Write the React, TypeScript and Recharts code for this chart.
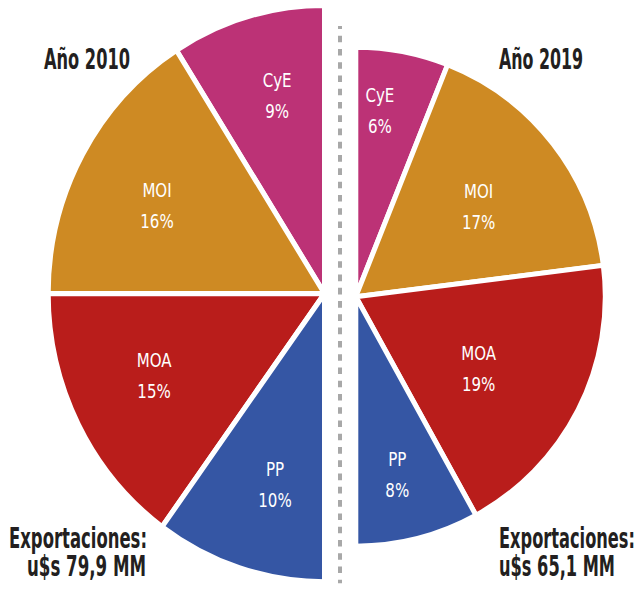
import React from 'react';
import { PieChart, Pie, Cell, Customized } from 'recharts';

const categories = ['CyE', 'MOI', 'MOA', 'PP'];
const shares2010 = [9, 16, 15, 10];
const shares2019 = [6, 17, 19, 8];
const yearTitles = ['Año 2010', 'Año 2019'];
const totalHeader = 'Exportaciones:';
const totalValues = ['u$s 79,9 MM', 'u$s 65,1 MM'];

const colors = ['#BC3276', '#CE8A23', '#B91D1B', '#3556A4'];

const data2010 = categories.map((name, i) => ({ name, value: shares2010[i] }));
const data2019 = categories.map((name, i) => ({ name, value: shares2019[i] }));

const W = 638;
const H = 590;
const RAD = Math.PI / 180;
const NARROW = "'Liberation Sans Narrow', 'DejaVu Sans Condensed', 'Arial Narrow', sans-serif";
const INK = '#231F20';
const LABEL_SQUEEZE = 0.88;

// label placement (radius factor, angle shift) per slice
const leftLabelPos = [
  { rf: 0.709, da: -2.2 },
  { rf: 0.678, da: 2.2 },
  { rf: 0.679, da: -2.3 },
  { rf: 0.688, da: 2.9 },
];
const rightLabelPos = [
  { rf: 0.75, da: 3.4 },
  { rf: 0.61, da: -1.6 },
  { rf: 0.57, da: -3.3 },
  { rf: 0.733, da: -1.3 },
];

const LEFT_SCALE_Y = 1.043;

function makeLabel(pos: { rf: number; da: number }[], values: number[], sy: number) {
  return (props: any) => {
    const { cx, cy, midAngle, outerRadius, index } = props;
    const p = pos[index];
    const r = outerRadius * p.rf;
    const a = (midAngle + p.da) * RAD;
    const x = cx + r * Math.cos(a);
    const y = cy - r * Math.sin(a);
    const half = 15.5 / sy;
    const base = 6.8 / sy;
    return (
      <g key={`lbl-${index}`} transform={`translate(${x},${y}) scale(${LABEL_SQUEEZE},1)`}>
        <text x={0} y={-half + base} textAnchor="middle" fill="#fff" fontFamily={NARROW} fontSize={19}>
          {categories[index]}
        </text>
        <text x={0} y={half + base} textAnchor="middle" fill="#fff" fontFamily={NARROW} fontSize={19}>
          {`${values[index]}%`}
        </text>
      </g>
    );
  };
}

const Overlay = () => (
  <g>
    <line
      x1={340}
      y1={26}
      x2={340}
      y2={583.3}
      stroke="#A8A8A8"
      strokeWidth={4}
      strokeDasharray="6.6 6.67"
      strokeDashoffset={3.6}
    />
    <text x={44} y={69} fontFamily={NARROW} fontWeight="bold" fontSize={29} fill={INK} textLength={86} lengthAdjust="spacingAndGlyphs">
      {yearTitles[0]}
    </text>
    <text x={499} y={69} fontFamily={NARROW} fontWeight="bold" fontSize={29} fill={INK} textLength={84} lengthAdjust="spacingAndGlyphs">
      {yearTitles[1]}
    </text>
    <text x={9} y={548} fontFamily={NARROW} fontWeight="bold" fontSize={28} fill={INK} textLength={138} lengthAdjust="spacingAndGlyphs">
      {totalHeader}
    </text>
    <text x={27} y={576} fontFamily={NARROW} fontWeight="bold" fontSize={28} fill={INK} textLength={119} lengthAdjust="spacingAndGlyphs">
      {totalValues[0]}
    </text>
    <text x={499} y={548} fontFamily={NARROW} fontWeight="bold" fontSize={28} fill={INK} textLength={136} lengthAdjust="spacingAndGlyphs">
      {totalHeader}
    </text>
    <text x={499} y={576} fontFamily={NARROW} fontWeight="bold" fontSize={28} fill={INK} textLength={116} lengthAdjust="spacingAndGlyphs">
      {totalValues[1]}
    </text>
  </g>
);

const noMargin = { top: 0, right: 0, bottom: 0, left: 0 };

export default function App() {
  return (
    <div style={{ position: 'fixed', left: 0, top: 0, width: W, height: H, background: '#fff', overflow: 'hidden' }}>
      <div
        style={{
          position: 'absolute',
          left: 0,
          top: 0,
          width: W,
          height: H,
          transform: `scaleY(${LEFT_SCALE_Y})`,
          transformOrigin: '0px 293.6px',
        }}
      >
        <PieChart width={W} height={H} margin={noMargin}>
          <Pie
            data={data2010}
            dataKey="value"
            nameKey="name"
            cx={324.5}
            cy={293.6}
            innerRadius={0}
            outerRadius={276.3}
            startAngle={90}
            endAngle={270}
            stroke="#fff"
            strokeWidth={5}
            labelLine={false}
            label={makeLabel(leftLabelPos, shares2010, LEFT_SCALE_Y)}
            isAnimationActive={false}
          >
            {data2010.map((d, i) => (
              <Cell key={d.name} fill={colors[i]} />
            ))}
          </Pie>
        </PieChart>
      </div>
      <div style={{ position: 'absolute', left: 0, top: 0, width: W, height: H }}>
        <PieChart width={W} height={H} margin={noMargin}>
          <Pie
            data={data2019}
            dataKey="value"
            nameKey="name"
            cx={355.8}
            cy={296.65}
            innerRadius={0}
            outerRadius={249.5}
            startAngle={90}
            endAngle={-90}
            stroke="#fff"
            strokeWidth={5}
            labelLine={false}
            label={makeLabel(rightLabelPos, shares2019, 1)}
            isAnimationActive={false}
          >
            {data2019.map((d, i) => (
              <Cell key={d.name} fill={colors[i]} />
            ))}
          </Pie>
          <Customized component={Overlay} />
        </PieChart>
      </div>
    </div>
  );
}
